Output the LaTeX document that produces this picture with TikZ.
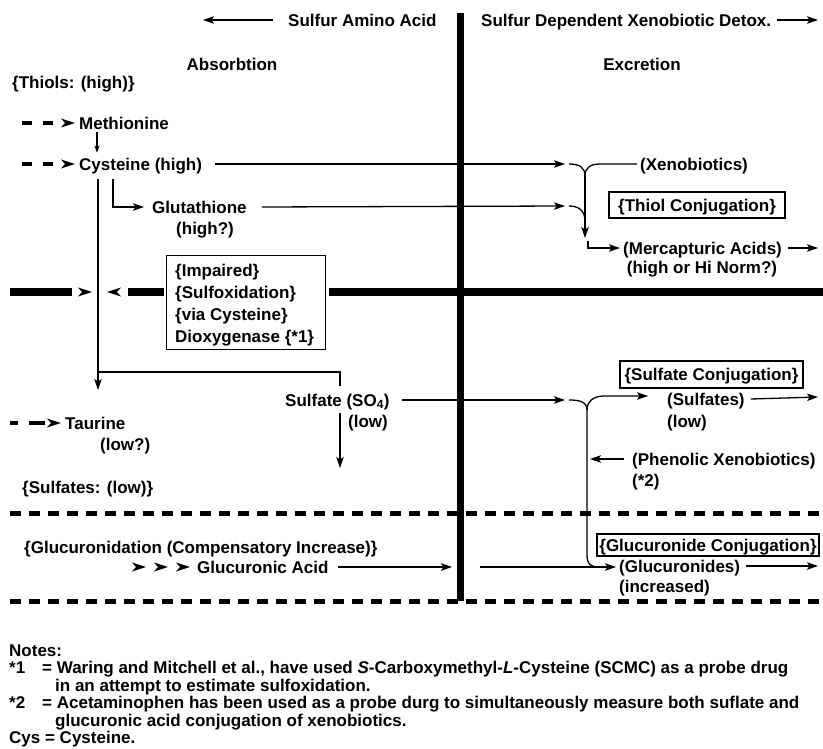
\documentclass[tikz,border=0pt]{standalone}
\usepackage{fontspec}
\setmainfont{Liberation Sans}
\usetikzlibrary{arrows.meta}
\newcommand{\lab}{\fontsize{17}{20}\selectfont\bfseries}
\begin{document}
\begin{tikzpicture}[x=1pt,y=-1pt,
  every node/.style={inner sep=0pt, font=\lab, text height=12.2pt, text depth=0pt},
  hd/.tip={Stealth[length=11pt,width=7.5pt,inset=2.5pt]},
  smallhd/.tip={Stealth[length=7pt,width=5pt,inset=1.5pt]},
  conn/.style={line width=1.3pt, -hd},
  link/.style={line width=1.3pt},
  bar/.style={line width=8pt},
  spine/.style={line width=7pt},
  dashbar/.style={line width=4.5pt},
  divider/.style={line width=5pt, dash pattern=on 11pt off 8pt},
  tag/.style={draw, line width=1.4pt, inner sep=0pt},
  arrowhd/.pic={\fill (0,0) -- (-14,-4.5) -- (-10,0) -- (-14,4.5) -- cycle;},
]
\useasboundingbox (0,0) rectangle (823,749);

% ---------- headings ----------
\node[anchor=west] (saa) at (288,20) {Sulfur Amino Acid};
\coordinate (saaEnd) at (203,20);
\draw[conn] ([xshift=-15pt]saa.west) -- (saaEnd);
\node[anchor=west] (sdx) at (481,20) {Sulfur Dependent Xenobiotic Detox.};
\coordinate (sdxEnd) at (818,20);
\draw[conn] ([xshift=6pt]sdx.east) -- (sdxEnd);

\node (abs) at (232,64) {Absorbtion};
\node (exc) at (642,64) {Excretion};
\node[anchor=west] (thiols) at (12,82) {\{Thiols: (high)\}};

% ---------- vertical spine and dividers ----------
\coordinate (spineTop) at (460.5,13);
\coordinate (spineBot) at (460.5,601);
\draw[divider] (10,513) -- (823,513);
\draw[divider] (10,601) -- (823,601);
\draw[spine] (spineTop) -- (spineBot);

% ---------- thiol pathway ----------
\node[anchor=west] (meth) at (79,123) {Methionine};
\node[anchor=west] (cys) at (79,164) {Cysteine (high)};
\coordinate (methIn) at (22,123);
\coordinate (cysIn) at (22,164);
\draw[dashbar] (methIn) -- ++(10,0) ++(11,0) -- ++(10,0);
\pic at ([xshift=-4pt]meth.west) {arrowhd};
\draw[dashbar] (cysIn) -- ++(10,0) ++(11,0) -- ++(10,0);
\pic at ([xshift=-4pt]cys.west) {arrowhd};
\draw[line width=1.1pt, -smallhd] ([xshift=18pt,yshift=-3pt]meth.south west) -- ([xshift=18pt,yshift=5pt]cys.north west);

\node[anchor=west] (glut) at (152,207) {Glutathione};
\node (gluthi) at (205,228) {(high?)};
\draw[conn] ([xshift=34pt,yshift=-9pt]cys.south west) |- ([xshift=-8pt]glut.west);

% junction of the thiol conjugation
\coordinate (jx) at (565,164);
\coordinate (jg) at (565,206);
\coordinate (jtop) at (585,176);
\coordinate (jmid) at (585,221);
\coordinate (jdown) at (585,238);
\draw[conn] ([xshift=13pt]cys.east) -- (jx);
\draw[conn] ([xshift=15pt]glut.east) -- (jg);
\node[anchor=west] (xeno) at (640,164) {(Xenobiotics)};
\draw[link] ([xshift=4pt]jx) .. controls (579,164) and (585,167) .. (jtop);
\draw[link] ([xshift=-3pt]xeno.west) -- (600,164) .. controls (590,164) and (585,168) .. (jtop);
\draw[link] ([xshift=4pt]jg) .. controls (578,206) and (585,210) .. (jmid);
\draw[conn] (jtop) -- (jdown);
\node[tag, minimum width=176pt, minimum height=26pt] (thiolBox) at (697,205) {\{Thiol Conjugation\}};
\node[anchor=west] (merc) at (623,248) {(Mercapturic Acids)};
\node (mercHi) at (702,267) {(high or Hi Norm?)};
\coordinate (mercStart) at (588,241);
\coordinate (mercOut) at (818,248);
\draw[conn] (mercStart) |- ([xshift=-3pt]merc.west);
\draw[conn] ([xshift=6pt]merc.east) -- (mercOut);

% ---------- impaired sulfoxidation barrier ----------
\node[tag, minimum width=159pt, minimum height=94pt, anchor=north west] (impBox) at (166,255) {};
\node[anchor=west] (imp1) at (175,270) {\{Impaired\}};
\node[anchor=west] (imp2) at (175,292) {\{Sulfoxidation\}};
\node[anchor=west] (imp3) at (175,314) {\{via Cysteine\}};
\node[anchor=west] (imp4) at (175,336) {Dioxygenase \{*1\}};
\coordinate (barA) at (10,292);
\coordinate (barB) at (72,292);
\coordinate (barC) at (128,292);
\coordinate (barEnd) at (823,292);
\draw[bar] (barA) -- (barB);
\pic at (92,292) {arrowhd};
\pic[rotate=180] at (107,292) {arrowhd};
\draw[bar] (barC) -- ([xshift=-2pt]impBox.west |- barC);
\draw[bar] ([xshift=3pt]impBox.east |- barC) -- (barEnd);

% ---------- sulfate / taurine ----------
\coordinate (taurTip) at (98,390);
\coordinate (brTurn) at (98,372);
\draw[conn] ([xshift=19pt,yshift=-9pt]cys.south west) -- (taurTip);
\node[anchor=west] (sulf) at (285,400) {Sulfate (SO\textsubscript{4})};
\node[anchor=west] (sulfLow) at (348,421) {(low)};
\draw[link] (brTurn) -| ([xshift=55pt,yshift=8pt]sulf.north west);
\coordinate (sulfDown) at (340,468);
\draw[conn] ([xshift=55pt,yshift=-7pt]sulf.south west) -- (sulfDown);

\node[anchor=west] (taur) at (65,423) {Taurine};
\node[anchor=west] (taurLow) at (100,444) {(low?)};
\coordinate (taurIn) at (10,423);
\draw[dashbar] (taurIn) -- ++(8,0) ++(11,0) -- ++(16,0);
\pic at ([xshift=-4pt]taur.west) {arrowhd};
\node[anchor=west] (sulfates) at (22,487) {\{Sulfates: (low)\}};

% junction of the sulfate conjugation
\coordinate (js) at (565,400);
\coordinate (jsTop) at (587,410);
\coordinate (sulfsIn) at (648,396);
\coordinate (sulfsOut) at (818,397);
\draw[conn] ([xshift=12pt]sulf.east) -- (js);
\node[tag, minimum width=183pt, minimum height=27pt] (sulfBox) at (711.5,374.5) {\{Sulfate Conjugation\}};
\node[anchor=west] (sulfs) at (667,399) {(Sulfates)};
\node[anchor=west] (sulfsLow) at (667,421) {(low)};
\draw[link] ([xshift=4pt]js) .. controls (580,400) and (587,402) .. (jsTop);
\draw[conn] (jsTop) .. controls (587,401) and (594,396) .. (604,396) -- (sulfsIn);
\draw[conn] ([xshift=6pt]sulfs.east) -- (sulfsOut);
\node[anchor=west] (phen) at (632,459) {(Phenolic Xenobiotics)};
\node[anchor=west] (phenNote) at (632,480) {(*2)};
\coordinate (phenTip) at (590,459);
\draw[conn] ([xshift=-8pt]phen.west) -- (phenTip);
\coordinate (jgBend) at (587,556);
\coordinate (jgJoin) at (598,567);
\draw[link] (jsTop) -- (jgBend) .. controls (587,563) and (590,567) .. (jgJoin);

% ---------- glucuronidation ----------
\node[anchor=west] (glucHead) at (24,547) {\{Glucuronidation (Compensatory Increase)\}};
\node[anchor=west] (glucA) at (197,567) {Glucuronic Acid};
\pic at (146,567) {arrowhd};
\pic at (168,567) {arrowhd};
\pic at (190,567) {arrowhd};
\coordinate (spineL) at (452,567);
\coordinate (spineR) at (480,567);
\coordinate (gluIn) at (616,567);
\coordinate (gluOut) at (818,566);
\draw[conn] ([xshift=9pt]glucA.east) -- (spineL);
\draw[conn] (spineR) -- (gluIn);
\node[tag, minimum width=222pt, minimum height=22pt] (gluBox) at (708,545) {\{Glucuronide Conjugation\}};
\node[anchor=west] (glus) at (619,566) {(Glucuronides)};
\node[anchor=west] (incr) at (619,586) {(increased)};
\draw[conn] ([xshift=6pt]glus.east) -- (gluOut);

% ---------- notes ----------
\node[anchor=west] (notes) at (9,650) {Notes:};
\node[anchor=west] (n1k) at (9,667.5) {*1};
\node[anchor=west] (n1) at (42,667.5) {= Waring and Mitchell et al., have used \textit{S}-Carboxymethyl-\textit{L}-Cysteine (SCMC) as a probe drug};
\node[anchor=west] (n1b) at (55,685) {in an attempt to estimate sulfoxidation.};
\node[anchor=west] (n2k) at (9,702.5) {*2};
\node[anchor=west] (n2) at (42,702.5) {= Acetaminophen has been used as a probe durg to simultaneously measure both suflate and};
\node[anchor=west] (n2b) at (55,720) {glucuronic acid conjugation of xenobiotics.};
\node[anchor=west] (cysn) at (9,737.5) {Cys = Cysteine.};
\end{tikzpicture}
\end{document}
